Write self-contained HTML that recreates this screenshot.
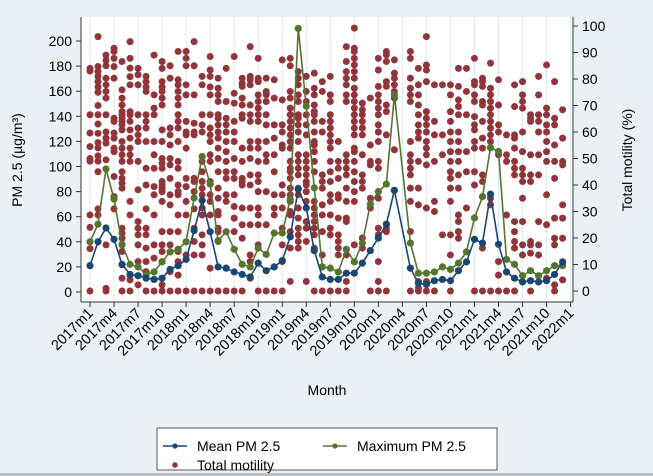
<!DOCTYPE html>
<html><head><meta charset="utf-8"><style>
html,body{margin:0;padding:0;background:#eaf0f3;}
svg{display:block;font-family:"Liberation Sans",sans-serif;}
</style></head><body>
<svg id="chart" width="653" height="476" viewBox="0 0 653 476">
<rect x="0" y="0" width="653" height="476" fill="#eaf0f3"/>
<rect x="0" y="473" width="653" height="3" fill="#b9bfc2"/>
<rect x="81" y="17" width="492" height="285" fill="#ffffff"/>
<g id="grid"></g>
<g id="dots"></g>
<g id="lines"></g>
<g id="axes"></g>
<text x="22" y="160" transform="rotate(-90 22 160)" text-anchor="middle" font-size="14" fill="#000">PM 2.5 (µg/m³)</text>
<text x="632" y="160" transform="rotate(-90 632 160)" text-anchor="middle" font-size="14" fill="#000">Total motility (%)</text>
<text x="327" y="395" text-anchor="middle" font-size="14" fill="#000">Month</text>
<g>
<rect x="157" y="428" width="340" height="42" fill="#fff" stroke="#333" stroke-width="0.8"/>
<g><line x1="163" y1="446" x2="187" y2="446" stroke="#1a476f" stroke-width="1.5"/><circle cx="175" cy="446" r="2.6" fill="#1a476f"/><text x="197" y="451" font-size="14">Mean PM 2.5</text></g>
<g><line x1="323" y1="446" x2="347" y2="446" stroke="#55752f" stroke-width="1.5"/><circle cx="335" cy="446" r="2.6" fill="#55752f"/><text x="357" y="451" font-size="14">Maximum PM 2.5</text></g>
<g><circle cx="175" cy="476" r="0" fill="none"/><circle cx="175" cy="477" r="0"/><circle cx="175" cy="476" r="0"/><circle cx="175" cy="477" r="0"/><circle cx="175" cy="465" r="2.8" fill="#90353b"/><text x="197" y="470" font-size="14">Total motility</text></g>
</g>
</svg>
<script>
const meanPM=[21,40,51,42,22,14,13,11,10,11,18,21,26,49,73,48,20,19,16,14,12,23,17,20,25,44,82,67,33,12,10,10,15,15,23,33,43,54,81,null,19,7,6,9,10,9,17,24,42,39,78,38,16,11,8,9,8,9,14,24];
const maxPM=[40,54,98,74,38,22,20,14,16,24,32,34,40,75,108,86,41,48,34,22,20,35,30,47,47,74,210,148,83,20,19,16,34,24,39,70,80,86,157,null,39,15,15,16,20,18,23,32,59,76,115,112,26,22,13,17,13,17,21,21];
const leftTicks=[0,20,40,60,80,100,120,140,160,180,200];
const rightTicks=[0,10,20,30,40,50,60,70,80,90,100];
const xTickLabels=["2017m1","2017m4","2017m7","2017m10","2018m1","2018m4","2018m7","2018m10","2019m1","2019m4","2019m7","2019m10","2020m1","2020m4","2020m7","2020m10","2021m1","2021m4","2021m7","2021m10","2022m1"];
const motility=[
[84,83,66.5,59.6,54.5,50,49,28.7,24,16,0],
[96,84.7,82.8,81,79,77,75,70,66.5,63,59.5,56,54,51,49,45,31,28.7],
[89,87,85,80.3,77.8,75.3,72.8,66.5,60,57.7,55.8,49.5,17.4,0,1],
[91.6,90.4,87.8,84.7,80.3,65.2,64,59.6,57.7,53.9,52.6,43.2,35.6,31],
[86.6,75.9,72.8,70.2,67.7,66.5,65.2,64,62.7,60.8,56.4,53.9,51.4,48.9,45,42.5,40.7,38.8,23.7,21.8,19.9,17.4,14.9,9.9,4.8,0],
[94.1,87.8,84.1,80.9,77.8,67.7,66.5,64,60.8,57.7,53.9,51.4,48.9,33.8,28.7,6,4.2,0],
[84,81.6,77.8,66.5,61.5,58.9,56.4,48.9,38.2,26.2,23.7,21.2,17.4,11.1,2.3],
[81,79,77,75.3,66.5,64,61.5,56.4,46.3,40,31,23.7,21.2,16.2,11.1,7.3,0],
[89,74,69,66.5,56.4,51.4,46.3,39.4,36.3,28.7,17.4,12.4,0],
[86.6,84,79,77,75.3,72.8,70.2,60.8,56.4,50,48.2,46.3,41.3,40,38.8,37.5,33.8,22.4,17.4,14.9,11.1,2.3,0],
[85,80.3,61.5,58.9,55.1,50,47.6,42.5,36.3,32.5,22.4,17.4,7.3,0],
[90.4,79.7,77.8,75.3,72.8,70.2,66.5,64,61.5,56.4,48.9,46.3,40,37.5,36.3,28.7,22.4,14.9,11.1,6,0],
[90.4,87.8,85,77.8,74,64,60,58.9,53.9,42.5,39.4,33.8,28.7,13.6,0],
[94.1,85,74,63.3,60,58.9,42.5,41.3,37.5,31,23.7,18.7,13.6,0],
[81,77.8,66.5,62.7,60,48.9,45,41.3,38.8,36.3,31.3,28.7,21.2,17.4,13.6,0],
[88.5,83.4,81,77,74,66.5,61.5,58.9,56.4,51.4,48.9,41.3,36.3,33.8,28.7,8.6,0],
[80.3,76.5,74,71.5,66.5,65.2,62.7,60,57.7,53.9,50,45,38.8,35,30,28.7,23.7,22.4,18.7,0],
[84,71.5,65.2,62.7,60,56.4,52.6,48.9,45,42.5,36.3,33.8,0],
[88.5,74.6,70.9,64,60,56.4,50,45,42.5,36.3,31.9,27.5,22.4,0],
[80.3,78.4,77.2,72.8,70.2,66.5,65.2,53.9,48.9,42.5,41.3,40,31.3,25,19.9,0],
[92.2,81,79.7,77.8,70.2,66.5,64,56.4,53.9,50,43.8,40,31.3,25,13.6,11.1,4.8],
[87.8,80.3,79,74,71.5,69,66.5,64,56.4,53.9,48.9,43.8,41.3,37.5,31.3,28.7,25,17.4,0],
[80.3,75.3,74,71.5,66.5,62.7,56.4,51.4,48.9,37.5,25,0],
[79.7,72.8,62.7,57.7,51.4,45,36.3,31.3,28.7,0],
[87.2,72.1,62.7,60,55.1,53.9,40,36.3,31.3,23.7,17.4,11.1,0],
[87.8,85,75.3,72.8,69,66.5,64,61.5,58.9,56.4,53.9,48.9,46.3,45,42.5,38.8,36.3,33.8,30,28.7,22.4,16.2,3.6],
[82.8,80.3,77.8,74,71.5,66.5,65.2,62.7,60,56.4,51.4,48.9,46.3,43.8,38.8,36.3,31.3,27.5,23.7,21.2,18.7,16.2],
[81,75.3,71.5,66.5,62.7,58.9,51.4,48.9,46.3,43.8,41.3,40,37.5,33.8,26.2,23.7,18.7,3.6],
[82.2,76.5,74,70.2,67.7,66.5,64,60,56.4,55.1,52.6,48.9,45,33.8,31.3,28.7,26.2,23.7,21.2,16.2,0],
[79,75.3,64,60,43.8,41.3,38.8,32.5,28.7,22.4,13.6,0],
[81,74,71.5,66.5,64,61.5,58.9,56.4,53.9,48.9,45,41.3,36.3,33.8,28.7,23.7,21.2,0],
[56.4,48.9,46.3,42.5,36.3,35,27.5,21.2,18.7,16.2,13.6,0],
[92.2,86.6,82.8,80.3,77.8,74,71.5,51.4,48.9,46.3,43.8,38.8,33.8,27.5,26.2,13.6,3.6,0],
[99.2,91.6,90.4,87.8,85.3,82.8,80.3,76.5,74,71.5,69,66.5,64,61.5,58.9,53.9,52.6,48.9,45,41.3,37.5,33.8,17.4],
[70.9,68.4,66.5,64,61.5,58.9,51.4,43.8,41.3,38.8,20,16.2],
[72.8,55.1,48.9,47.6,35,31.3,0],
[87.8,83.4,77.2,74,71.5,69,66.5,62.7,60,56.4,48.9,46.3,35,23.7,21.2,11.1,3.6,0],
[90.4,89.1,86.6,79,77.2,70.2,67.7,58.9,23.7,22.4,0],
[87.2,82.2,80.3,77.8,75.3,72.8,53.3],
[],
[90.4,87.8,80.3,76.5,74,71.5,56.4,51.4,48.9,46.3,43.8,38.8,33.8,22.4,0],
[84,77.8,74,70.2,66.5,62.7,60,57.7,48.9,38.8,32.5,3.6,1.1,0],
[96,85.3,83.4,79,67.7,65.2,62.7,60,56.4,53.9,51.4,47.6,31.3,3.6,0],
[77.8,64,58.9,48.9,33.8,30,0],
[77.8,58.9,51.4,21.2],
[77.8,74,67.7,64,60,56.4,52.6,48.9,45,42.5,38.8,33.8,21.2,13.6,0],
[84,77.2,72.1,69.6,66.5,60,56.4,52.6,48.9,43.8,38.8,28.7,26.2,22.4,19.9],
[84,75.3,66.5,52.6,45,31.3],
[87.8,79,77.8,74,71.5,65.8,62.7,60.8,56.4,53.9,45,40,0],
[80.3,79,77.2,71.5,70.2,64,57.7,53.9,43.8,41.3,16.2,0],
[86,76.5,74,71.5,69,66.5,64,61.5,58.9,56.4,35,32.5,0],
[79.7,70.2,62.7,60,52.6,51.4,11.1,6,0],
[58.9,51.4,48.9,28.7,0],
[77.8,69.6,58.9,57.7,53.9,48.9,46.3,43.8,26.2,22.4,18.7,16.2,0],
[79,74,71.5,69,60,52.6,46.3,43.8,41.3,35,26.2,17.4,13.6],
[66.5,65.2,64,51.4,43.8,41.3,18.7,17.4,14.3,0],
[81,74,66.5,64,60,51.4,43.8,26.2,17.4,13.6],
[85.3,69,66.5,62.7,60,56.4,52.6,48.9,36.3,25,4.8],
[79,65.2,62.7,55.1,48.9,42.5,27.5,19.9,17.4,2.3,0],
[68.4,57.7,48.9,47.6,32.5,27.5,19.9,4.2]
];
const NS='http://www.w3.org/2000/svg';
const X0=90, DX=8.01;
function xs(i){return X0+DX*i;}
function yL(v){return 292-v*1.255;}
function yR(v){return 291-v*2.65;}
function mk(tag,attrs,parent){const e=document.createElementNS(NS,tag);for(const k in attrs)e.setAttribute(k,attrs[k]);parent.appendChild(e);return e;}
const grid=document.getElementById('grid'),dots=document.getElementById('dots'),lines=document.getElementById('lines'),axes=document.getElementById('axes');
xTickLabels.forEach((lab,k)=>{
  const x=xs(k*3);
  const g=mk('line',{x1:x,y1:17,x2:x,y2:302,stroke:'#dde9ee','stroke-width':1},grid);
  
  
  const t=mk('line',{x1:x,y1:302,x2:x,y2:307,stroke:'#333','stroke-width':1},axes);
  
  
  const tx=mk('text',{x:x+4,y:314,'font-size':14.5,'text-anchor':'end',transform:`rotate(-45 ${x+4} 314)`},axes);
  tx.textContent=lab;
  
  
});
motility.forEach((arr,i)=>{arr.forEach(v=>{
  const c=mk('circle',{cx:xs(i),cy:yR(v),r:3.5,fill:'#90353b'},dots);
  
  
});});
function series(data,color,name){
  const pts=[];data.forEach((v,i)=>{if(v!==null)pts.push([xs(i),yL(v)]);});
  const p=mk('polyline',{points:pts.map(p=>p.join(',')).join(' '),fill:'none',stroke:color,'stroke-width':1.6},lines);
  
  
  pts.forEach(q=>{const c=mk('circle',{cx:q[0],cy:q[1],r:3.6,fill:color},lines);
    
    });
}
series(maxPM,'#55752f','max-pm25');
series(meanPM,'#1a476f','mean-pm25');
let a=mk('line',{x1:81,y1:17,x2:81,y2:302,stroke:'#333','stroke-width':1},axes);


a=mk('line',{x1:573,y1:17,x2:573,y2:302,stroke:'#333','stroke-width':1},axes);


a=mk('line',{x1:81,y1:302,x2:573,y2:302,stroke:'#333','stroke-width':1},axes);


leftTicks.forEach(v=>{
  const y=yL(v);
  const t=mk('line',{x1:76,y1:y,x2:81,y2:y,stroke:'#333'},axes);
  
  
  const tx=mk('text',{x:72,y:y+5,'font-size':14,'text-anchor':'end'},axes);
  tx.textContent=v;
  
  
});
rightTicks.forEach(v=>{
  const y=yR(v);
  const t=mk('line',{x1:573,y1:y,x2:578,y2:y,stroke:'#333'},axes);
  
  
  const tx=mk('text',{x:582,y:y+5,'font-size':14,'text-anchor':'start'},axes);
  tx.textContent=v;
  
  
});
</script>
</body></html>
